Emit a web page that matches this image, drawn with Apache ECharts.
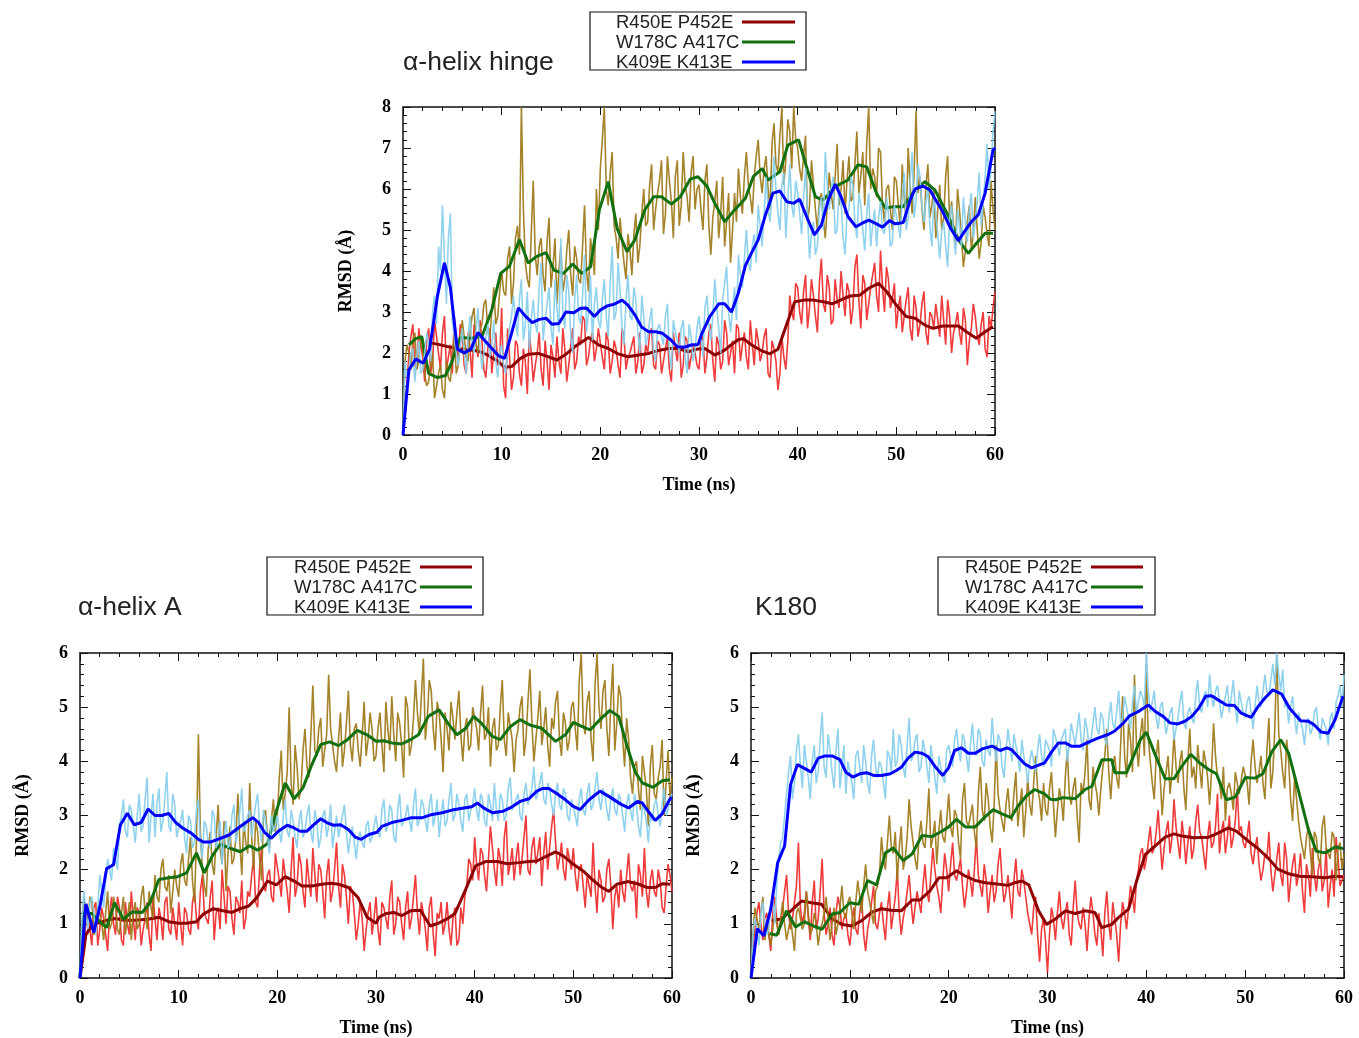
<!DOCTYPE html>
<html>
<head>
<meta charset="utf-8">
<script src="https://cdn.jsdelivr.net/npm/echarts@6/dist/echarts.min.js"></script>
<style>html,body{margin:0;padding:0;background:#fff}#c{width:1359px;height:1038px}</style>
</head>
<body>
<div id="c"></div>
<script>
// ---------------- DATA ----------------
const seriesNames = ['R450E P452E', 'W178C A417C', 'K409E K413E'];
const panelTitles = ['α-helix hinge', 'α-helix A', 'K180'];
const xTicks = { min: 0, max: 60, interval: 10 };
const yMaxHinge = 8, yMaxA = 6, yMaxK180 = 6;
const T_MAX = 60;

// raw traces: samples at t = 0, 0.4, 0.8 ... 60 ns
const hingeRawR = [
0,1.2,2.4,1.7,2.6,1.9,2.3,1.5,2.8,2.0,2.5,1.6,2.2,2.9,1.8,2.4,1.5,2.1,2.7,1.9,2.3,1.4,2.6,2.0,1.7,
3.1,0.9,1.9,1.4,2.2,1.2,1.8,2.5,1.3,2.0,1.6,2.3,1.1,1.9,2.4,1.5,2.1,1.7,2.6,1.8,2.2,2.8,1.9,2.5,2.1,
2.6,1.6,2.3,1.8,2.1,1.4,2.4,1.9,2.2,1.5,2.5,1.7,2.0,2.6,1.6,2.2,1.8,2.4,1.3,2.1,2.5,1.7,2.3,1.9,2.0,
1.6,2.4,1.9,2.7,1.3,2.2,1.8,2.5,2.0,1.5,2.6,2.2,1.9,2.8,1.7,2.3,2.0,2.6,1.4,2.1,1.1,2.4,1.6,3.4,2.8,
3.6,2.7,3.9,3.1,3.4,2.5,4.3,3.0,3.6,2.8,3.3,4.0,2.9,3.5,3.1,4.4,2.6,3.7,3.2,3.9,3.4,4.5,3.0,3.8,3.3,
2.6,3.4,2.9,3.6,2.3,3.1,2.7,3.5,2.2,2.9,3.2,2.4,2.8,3.3,2.0,2.7,2.5,3.1,1.7,2.6,2.9,2.2,3.0,1.9,2.6,3.5];
// in-between samples at t = 0.2, 0.6 ... 59.8 ns
const hingeRawR2 = [
0.8,2.0,2.7,1.6,2.2,1.3,2.6,1.8,2.4,1.6,2.9,1.9,1.5,2.3,2.7,1.7,2.5,1.4,2.2,2.8,1.6,2.1,1.5,2.5,1.8,
1.2,2.6,1.1,2.3,1.5,2.1,1.0,2.0,1.7,2.5,1.2,1.8,2.2,1.4,1.8,2.6,1.3,2.2,1.6,2.4,2.9,1.7,2.3,1.8,2.6,
1.9,2.5,1.5,2.3,1.7,2.6,1.6,2.0,2.4,1.8,1.5,2.2,2.5,1.7,2.3,1.5,2.1,1.6,2.5,1.8,1.4,2.4,1.6,2.2,1.7,
2.3,1.5,2.5,1.8,2.4,1.6,2.8,1.7,2.3,2.7,1.8,2.5,1.6,2.2,2.6,1.8,2.4,1.5,2.3,1.8,1.5,1.9,2.3,3.0,3.7,
3.0,3.5,2.6,3.8,2.9,3.7,3.2,3.9,2.7,3.8,3.1,3.4,3.7,2.7,4.1,3.3,3.9,2.8,3.6,4.2,3.0,3.6,4.1,3.1,3.7,
3.1,2.5,3.3,2.6,3.4,2.4,3.2,2.5,3.0,2.6,2.8,3.4,2.2,2.9,2.5,3.0,2.2,2.8,2.3,3.2,2.4,2.7,2.1,2.9,3.1];
const hingeRawW = [
0,2.2,1.6,2.5,1.8,2.1,1.2,1.7,0.9,1.5,1.1,1.8,1.3,2.4,1.7,2.8,1.9,2.5,3.1,2.0,2.7,3.3,2.4,3.6,2.9,
4.0,3.4,4.6,3.7,5.1,8.0,4.2,3.6,6.2,3.9,4.8,3.5,5.3,4.1,3.2,4.6,3.8,5.0,3.4,4.3,3.7,5.6,3.5,4.4,6.0,
6.5,8.0,5.6,6.9,4.8,5.3,4.2,4.9,3.9,5.4,4.6,6.0,5.2,6.6,5.5,6.2,4.9,6.8,5.7,6.3,5.1,6.9,5.8,6.4,5.5,
6.1,5.0,6.6,4.4,5.7,4.8,6.3,5.2,4.2,5.9,6.5,5.4,6.9,5.8,6.3,7.2,5.9,6.8,5.5,7.6,6.4,8.0,6.7,7.4,8.0,
7.0,6.2,7.3,5.6,6.1,5.0,5.9,4.8,6.4,5.5,7.1,6.0,5.4,6.8,5.8,7.4,6.3,5.6,8.0,6.5,5.8,6.9,5.2,6.1,5.0,
6.2,5.1,5.8,7.0,5.4,7.9,6.3,5.0,6.6,5.6,4.8,6.1,5.3,6.8,5.7,4.6,5.5,4.1,5.2,4.5,5.8,4.3,5.6,4.9,6.2,5.0];
const hingeRawW2 = [
1.8,2.0,2.3,1.6,2.4,1.5,1.3,2.0,1.2,1.7,0.9,1.4,2.0,1.5,2.2,2.4,1.8,2.9,2.2,2.6,3.2,2.5,3.0,2.7,3.5,
3.5,4.3,3.2,4.8,4.4,5.5,3.8,4.9,4.4,4.6,3.9,4.7,3.6,4.8,4.0,3.5,4.5,3.9,4.6,3.8,4.6,4.0,4.8,3.9,5.0,
7.2,6.0,6.4,5.1,4.3,4.7,3.8,4.5,4.9,4.2,5.4,5.1,6.1,5.0,5.9,6.7,5.4,6.2,4.8,6.7,5.6,6.1,5.2,6.8,6.0,
5.5,6.2,5.1,5.3,6.2,5.4,4.6,5.9,5.0,5.2,5.8,6.3,6.1,5.4,6.8,6.3,6.5,6.0,7.1,6.6,7.3,6.1,7.7,6.5,7.2,
6.5,6.8,5.2,6.7,5.5,5.7,5.3,5.6,5.9,6.3,5.6,6.7,6.2,5.7,6.6,5.9,6.9,7.1,6.0,6.3,7.0,5.6,6.0,5.5,6.3,
5.6,6.6,5.2,6.1,6.4,5.9,5.5,6.1,5.3,6.0,5.5,5.0,6.3,5.2,5.1,6.0,4.8,4.5,5.6,4.9,5.0,4.7,5.3,4.6,5.5];
const hingeRawK = [
0,1.4,2.0,1.3,2.3,1.6,2.5,1.8,3.4,4.6,5.6,3.2,5.4,2.4,1.7,2.6,1.5,2.9,2.0,3.1,1.6,2.4,1.9,2.8,1.4,
2.2,1.5,2.6,3.4,2.4,3.8,2.7,2.1,3.3,2.5,4.2,2.8,3.6,2.2,3.1,4.8,2.6,3.5,2.0,3.9,2.7,4.4,3.0,2.3,3.6,
2.6,3.8,2.4,4.6,3.0,3.5,2.2,3.9,2.8,3.3,2.0,2.9,2.4,3.1,1.8,2.7,2.2,3.2,1.6,2.5,2.0,2.8,1.5,2.4,2.1,
2.9,1.9,3.4,2.3,3.8,2.6,3.3,4.1,2.5,3.6,4.4,3.6,5.0,4.0,4.9,5.6,4.6,6.3,5.2,6.8,5.4,6.1,4.8,6.6,5.3,
5.9,4.9,6.5,4.3,5.2,4.6,5.8,6.9,5.5,6.3,5.0,5.7,4.4,5.5,6.1,4.8,5.6,4.5,5.9,5.1,4.6,5.7,4.9,5.4,4.7,
5.6,4.8,6.4,5.3,6.9,5.7,6.3,5.2,6.0,4.6,5.4,4.3,5.2,4.1,5.6,4.4,5.1,5.8,4.7,5.9,5.2,6.4,5.7,7.1,6.5,7.9];
const hingeRawK2 = [
1.8,1.6,2.1,1.9,1.5,2.0,2.2,3.0,2.7,4.0,4.3,4.8,2.8,2.0,2.2,2.0,2.4,2.2,2.5,2.2,2.0,2.7,2.2,1.8,2.0,
1.7,2.1,2.9,2.8,3.3,2.3,3.5,2.8,2.7,3.6,2.3,3.2,2.6,3.8,2.5,3.0,3.9,2.4,3.3,2.9,3.4,2.5,3.9,3.2,2.8,
3.3,2.9,3.7,2.8,4.2,2.6,3.3,2.9,3.6,2.5,3.4,2.2,2.8,2.0,2.6,2.4,2.9,2.0,2.8,2.3,2.6,1.9,2.7,1.8,2.6,
2.4,3.1,2.7,2.9,3.1,2.0,3.7,3.0,3.1,2.8,3.9,4.3,4.2,4.6,4.2,5.1,5.4,5.5,5.9,6.0,5.0,6.4,5.7,5.6,6.2,
5.4,5.8,5.4,4.9,4.4,5.5,5.0,6.1,6.0,4.9,6.0,4.8,5.4,6.3,5.2,5.9,5.0,5.4,4.6,5.5,5.3,5.0,5.8,4.6,5.6,
5.1,5.8,5.0,6.2,5.3,6.6,5.6,5.7,5.1,5.8,4.9,5.0,4.6,5.3,4.9,5.5,4.6,5.2,5.5,4.8,5.7,5.1,6.3,6.0,7.4];

const helixARawR = [
0,0.7,1.2,0.6,1.4,0.9,1.1,0.5,1.5,0.8,1.3,0.6,1.0,1.6,0.7,1.2,0.9,1.4,0.5,1.1,1.3,0.7,1.5,0.8,1.0,
1.4,0.6,1.2,0.8,1.6,0.9,1.9,1.1,1.5,0.7,1.3,2.0,1.0,1.6,0.8,1.4,1.8,1.1,1.5,2.2,1.3,2.4,1.6,2.0,1.4,
2.3,1.5,1.9,1.2,2.6,1.7,2.1,1.3,1.8,2.4,1.4,2.0,1.1,2.2,1.6,2.5,1.3,1.9,1.0,1.6,0.7,1.4,0.5,1.2,0.8,
1.5,0.6,1.3,0.9,1.8,1.0,1.4,0.7,1.6,1.1,1.9,0.8,1.2,0.5,1.5,0.4,1.1,0.8,1.4,0.6,1.3,0.7,1.0,1.7,2.1,
2.6,1.8,2.3,1.6,2.8,2.0,2.4,1.7,2.9,2.1,1.8,2.5,2.2,3.0,1.9,2.6,2.3,1.7,2.7,2.4,3.1,2.0,2.5,1.8,2.2,
2.4,1.6,2.1,1.3,1.9,2.5,1.2,1.8,1.5,2.2,0.9,1.7,2.0,1.4,2.3,1.6,1.1,1.9,2.4,1.3,2.0,1.5,1.8,1.2,2.1,1.6];
const helixARawR2 = [
0.4,1.0,0.9,1.3,0.6,1.3,0.8,1.2,1.0,1.5,0.7,1.4,0.8,1.1,1.3,0.6,1.1,0.8,1.5,0.7,1.1,1.4,0.9,1.3,0.7,
1.0,1.3,0.9,1.4,1.1,1.6,1.2,1.0,1.8,1.2,0.9,1.5,1.7,1.1,1.5,1.2,0.9,1.6,1.9,1.4,2.0,1.7,1.9,1.5,2.3,
1.8,2.2,1.6,2.0,1.5,2.3,1.6,2.2,1.5,1.9,2.1,1.6,1.9,1.4,2.0,1.7,2.1,1.5,1.7,1.2,1.0,1.1,0.9,1.4,1.1,
0.9,1.4,1.1,1.5,0.8,1.5,1.0,1.3,0.9,1.5,1.2,1.4,0.9,1.3,0.8,1.2,1.4,1.0,0.9,1.1,0.6,1.3,1.5,2.2,1.8,
2.1,2.4,1.9,2.2,2.4,1.7,2.2,2.6,1.9,2.4,2.2,1.9,2.6,2.0,2.4,2.1,2.6,2.3,2.0,2.8,2.5,2.2,2.0,2.4,2.0,
1.9,2.0,1.7,1.9,1.5,1.7,2.0,1.4,2.0,1.7,1.5,1.3,1.6,1.9,1.7,1.8,2.1,1.5,1.6,1.8,1.6,2.0,1.3,1.7,1.9];
const helixARawW = [
0,1.5,1.0,1.4,0.9,1.2,0.7,1.6,1.0,1.3,0.8,1.5,1.1,0.7,1.4,1.0,1.7,0.9,1.3,1.9,1.4,2.2,1.6,1.2,2.0,
1.5,2.3,1.7,2.6,1.4,4.5,2.0,1.5,2.7,1.9,3.2,2.1,1.6,2.8,2.2,3.4,1.9,2.5,3.6,2.0,2.7,1.8,3.1,2.4,3.3,
3.0,4.2,3.4,5.0,3.2,3.9,3.5,4.6,3.7,5.4,4.1,4.8,3.9,5.6,4.3,3.8,4.9,4.2,5.3,4.0,4.7,3.9,5.1,4.4,4.6,
4.1,4.9,3.8,4.6,5.2,4.0,4.7,3.7,5.0,4.3,5.5,4.5,5.9,4.8,5.3,4.2,4.9,3.8,4.6,5.1,4.4,5.3,4.0,4.8,4.3,
5.0,4.2,5.4,4.5,3.9,4.8,4.3,5.5,4.1,4.9,3.8,4.6,5.2,4.4,5.7,4.0,4.8,4.3,5.0,3.9,4.6,5.3,4.1,4.7,4.4,
5.1,4.2,6.0,4.5,5.3,4.0,6.0,4.6,5.5,4.1,5.8,4.7,5.2,3.9,4.4,3.4,4.0,3.1,3.8,2.8,4.3,3.3,3.9,3.0,4.2,3.7];
const helixARawW2 = [
0.9,1.2,1.5,0.8,1.3,1.0,1.2,0.9,1.5,0.9,1.2,0.8,1.4,1.2,0.9,1.5,1.2,1.6,1.1,1.5,2.0,1.7,1.9,1.6,1.7,
2.1,1.8,2.2,1.8,2.5,2.7,1.7,2.4,2.1,2.6,2.4,2.9,2.3,2.1,2.6,2.5,2.9,2.3,2.6,2.9,2.2,3.0,2.6,2.9,2.7,
3.7,3.1,3.8,3.6,4.3,3.3,4.2,3.9,4.5,4.2,4.6,3.9,4.5,4.6,4.0,4.4,3.9,4.7,4.3,4.6,4.2,4.5,4.1,4.9,4.0,
4.6,4.3,5.1,4.2,4.5,4.9,4.3,5.2,4.1,4.8,4.9,5.2,4.4,5.5,4.6,5.1,4.4,4.9,4.2,4.8,4.9,4.5,4.6,4.2,5.0,
4.6,4.9,4.4,5.0,4.6,4.2,5.0,4.4,4.9,4.4,4.4,5.0,4.1,5.1,4.7,4.4,5.3,4.6,4.3,4.8,5.1,4.4,4.9,4.2,5.0,
4.6,5.5,4.7,5.1,4.4,5.4,5.0,5.3,4.6,5.1,4.2,5.4,4.4,4.8,3.7,3.9,3.5,4.1,3.5,3.9,3.4,3.7,4.4,3.6,3.3];
const helixARawK = [
0,1.6,0.9,1.5,0.8,1.9,1.3,2.2,1.8,2.4,2.8,3.3,2.6,3.1,2.5,3.4,2.8,3.7,3.0,2.6,3.5,2.9,3.8,2.7,3.2,
2.6,3.1,2.3,2.9,2.5,3.3,2.2,2.8,2.4,3.0,2.6,2.1,2.9,2.5,3.2,2.7,3.5,2.8,3.1,2.6,3.4,2.5,2.9,2.3,2.7,
3.0,2.5,3.3,2.6,2.9,2.4,3.1,2.7,3.2,2.5,2.9,2.6,3.1,2.8,2.4,3.0,2.6,3.2,2.3,2.8,2.2,2.7,2.4,2.9,2.6,
3.0,2.6,3.3,2.8,3.1,2.5,3.4,2.9,3.2,2.7,3.5,2.9,3.2,2.7,3.4,3.0,2.6,3.3,2.9,3.6,3.0,3.2,2.7,3.4,3.1,
3.5,2.9,3.3,2.8,3.2,3.6,2.9,3.3,3.0,3.7,3.1,3.4,2.9,3.6,3.2,3.9,3.4,3.8,3.2,3.5,3.0,3.6,3.1,3.4,2.9,
3.3,2.8,3.5,3.0,3.6,3.2,3.8,3.1,3.4,2.9,3.5,3.0,3.3,2.7,3.4,2.9,3.2,2.6,3.1,2.5,2.9,3.3,2.8,3.5,3.1,3.4];
const helixARawK2 = [
1.1,1.2,1.4,1.2,1.3,1.6,1.8,2.0,2.4,2.0,3.0,2.7,3.2,2.8,3.0,2.7,3.3,2.5,3.4,3.2,2.7,3.3,2.8,3.4,2.6,
2.9,2.6,3.0,2.4,3.1,2.5,2.9,2.5,3.1,2.4,2.9,2.6,2.4,3.0,2.5,3.1,2.7,3.0,2.6,3.2,2.8,3.1,2.6,3.0,2.8,
2.7,3.0,2.7,3.1,2.6,2.9,2.6,3.0,2.7,3.1,2.4,3.0,2.6,3.2,2.7,2.6,3.0,2.7,2.6,2.5,2.6,2.5,2.8,2.5,2.8,
2.7,3.1,2.7,3.2,2.6,3.1,2.8,3.0,2.9,3.2,2.8,3.3,2.9,3.2,2.8,3.3,3.0,2.8,3.3,2.9,3.4,2.9,3.3,2.9,3.2,
3.1,3.4,2.9,3.4,2.9,3.1,3.4,2.9,3.5,3.1,3.3,3.0,3.4,3.2,3.5,3.3,3.6,3.3,3.6,3.2,3.4,3.2,3.5,3.0,3.3,
3.0,3.3,3.1,3.4,3.1,3.5,3.3,3.5,3.1,3.3,3.1,3.4,3.0,3.2,3.1,3.4,2.8,3.2,2.9,3.0,3.2,3.0,3.2,3.0,3.3];

const k180RawR = [
0,0.9,1.4,0.7,1.2,0.5,1.5,0.8,1.3,1.9,0.9,1.4,2.5,1.0,1.6,0.7,1.8,1.1,2.2,0.8,1.3,0.6,1.5,0.9,1.2,
0.6,1.3,0.8,1.5,0.5,1.1,1.7,0.9,1.4,0.7,1.6,1.2,2.0,0.8,1.3,1.9,1.0,1.6,1.2,2.1,1.4,2.4,1.7,1.2,2.3,
1.6,2.5,1.8,2.2,1.3,2.0,1.5,2.6,1.7,2.1,1.2,1.9,1.6,2.4,1.4,1.9,1.1,2.2,1.5,1.8,1.2,0.8,1.5,0.3,1.1,
0.1,1.3,0.7,1.6,0.9,1.4,0.6,1.8,1.0,1.3,0.5,1.5,0.8,1.2,0.4,1.6,0.7,1.1,0.3,1.4,0.9,1.7,1.2,2.0,2.4,
2.2,2.8,2.4,3.1,2.0,2.7,2.3,3.3,2.5,2.9,2.1,2.8,2.4,3.2,2.6,2.0,2.9,2.5,3.4,2.7,2.3,3.0,2.6,3.5,2.8,
2.4,2.9,2.1,2.6,1.8,2.3,2.7,1.6,2.2,1.9,2.5,1.4,2.1,1.7,2.3,1.2,1.9,2.4,1.6,2.2,1.8,1.3,2.0,2.6,1.7,1.9];
const k180RawR2 = [
0.6,1.2,1.0,1.1,0.8,1.2,1.1,1.0,1.6,1.2,1.1,1.7,1.3,1.2,1.1,1.4,0.9,1.6,1.2,1.0,0.8,1.2,1.3,1.1,0.8,
1.0,0.9,1.2,0.8,0.9,1.4,1.0,1.2,1.0,1.3,0.9,1.5,1.2,1.1,1.6,1.4,1.3,1.4,1.7,1.6,1.9,2.0,1.5,1.8,2.0,
2.1,1.9,2.0,1.7,1.6,1.8,2.0,1.9,1.5,1.8,1.6,1.4,2.1,1.8,1.6,1.5,1.8,1.6,2.0,1.5,1.0,1.3,0.8,0.9,0.7,
0.8,1.1,1.2,1.1,1.2,0.8,1.3,1.2,0.9,1.0,1.1,1.2,0.6,0.9,1.2,1.0,1.4,0.8,1.0,1.2,1.3,1.5,1.8,2.3,2.0,
2.5,2.3,2.7,2.5,2.4,2.9,2.6,2.8,2.2,2.6,2.5,2.2,2.9,2.7,2.3,2.6,2.4,2.8,2.3,2.9,2.6,2.4,2.9,2.7,2.5,
2.6,2.3,2.4,2.1,2.0,2.2,2.0,1.9,2.5,1.7,2.2,1.8,2.3,1.9,1.6,2.1,1.5,1.9,2.0,1.6,2.4,1.7,1.5,2.2,1.8];
const k180RawW = [
0,1.3,0.9,1.5,1.0,0.6,1.2,0.8,1.4,0.7,1.1,0.5,1.3,0.9,1.6,0.8,1.2,0.6,1.0,1.5,0.7,1.3,1.0,1.7,1.1,
1.5,0.9,1.8,1.2,2.1,1.4,1.0,1.7,2.6,2.0,3.0,2.3,1.8,2.8,2.2,3.3,2.5,2.0,2.9,2.4,3.5,2.6,2.1,3.1,2.5,
3.4,2.6,3.0,2.2,3.6,2.8,3.2,2.4,3.9,2.9,3.3,2.5,4.3,3.1,2.7,3.5,2.9,3.8,3.2,2.6,3.7,3.0,4.1,3.3,3.6,
3.0,3.8,2.6,3.5,2.9,4.2,3.2,3.7,2.5,3.4,4.4,3.1,3.6,3.0,3.9,4.6,3.3,4.1,3.5,5.2,3.7,4.4,5.6,3.9,4.8,
5.8,4.0,3.3,4.4,3.0,3.8,3.4,4.5,3.6,4.2,3.1,4.6,3.9,4.3,3.5,4.0,3.2,4.7,3.7,3.3,2.9,3.6,3.1,3.8,3.4,
3.9,3.2,4.4,3.6,4.1,3.3,4.8,3.8,6.0,4.2,3.5,4.0,2.9,3.3,2.6,2.2,2.8,1.9,2.6,2.1,3.0,2.3,2.7,1.8,2.5,2.3];
const k180RawW2 = [
0.8,1.1,1.2,0.7,1.0,0.9,1.0,1.1,1.0,0.9,0.8,1.2,1.1,1.0,1.2,0.9,1.0,0.9,1.2,1.1,1.0,0.8,1.3,1.2,1.4,
1.2,1.4,1.5,1.7,1.6,1.2,1.6,1.9,2.2,2.5,2.4,2.7,2.4,2.0,2.6,2.8,2.2,2.6,2.5,2.9,2.4,2.9,2.7,2.6,2.9,
2.8,3.1,2.5,3.3,2.9,3.0,2.7,3.4,3.1,3.6,2.8,3.2,3.4,2.9,3.2,3.0,3.4,2.8,3.5,3.1,3.2,3.6,3.5,2.9,3.1,
3.5,3.2,3.1,3.3,3.7,3.4,3.5,3.0,3.6,3.8,3.3,3.9,3.4,3.5,4.1,3.8,3.9,3.7,4.3,4.1,4.7,3.8,4.3,4.5,4.1,
4.4,3.6,4.1,3.7,3.5,4.1,3.8,3.9,4.0,3.5,4.0,3.7,3.5,3.9,4.2,3.7,3.8,4.1,3.6,3.9,3.5,3.4,3.8,3.4,3.9,
3.6,4.0,3.9,3.8,3.6,4.2,3.5,4.6,4.5,3.8,4.4,3.3,3.7,2.9,2.4,2.6,2.3,2.7,2.2,2.8,2.4,2.2,2.6,2.4,2.0];
const k180RawK = [
0,1.1,0.6,1.4,0.8,1.3,1.0,2.2,2.6,3.4,4.1,3.6,4.5,3.5,4.0,3.3,4.3,3.8,4.9,3.7,4.2,3.5,4.6,3.9,3.4,
3.8,3.3,4.2,3.6,4.0,3.4,4.4,3.7,3.9,3.3,4.1,4.6,4.0,4.3,3.7,4.8,4.1,4.5,3.9,4.2,3.6,4.0,3.4,3.9,3.6,
4.3,3.9,4.6,4.0,4.4,3.8,4.7,4.1,4.5,3.9,4.2,4.8,4.0,4.4,3.7,4.6,4.0,4.3,3.8,4.1,3.6,4.2,3.8,4.5,3.9,
4.3,3.9,4.6,4.1,4.5,4.0,4.7,4.3,4.9,4.2,4.6,4.4,5.0,4.5,4.8,4.3,5.1,4.6,5.3,4.8,5.0,4.6,5.4,4.9,5.2,
6.0,4.9,5.3,4.6,5.1,4.5,4.9,4.4,4.8,5.3,4.6,5.0,4.7,5.5,4.9,5.3,5.6,5.0,5.4,4.8,5.2,4.9,5.5,4.7,5.1,
4.8,5.2,4.6,5.4,5.0,5.6,5.2,5.8,6.0,5.3,5.0,4.7,5.2,4.5,4.9,4.3,4.8,4.6,5.0,4.4,4.7,4.3,4.9,5.1,5.4,5.6];
const k180RawK2 = [
0.8,0.9,1.2,1.0,0.9,1.5,1.7,2.5,3.0,3.8,3.3,4.2,3.9,4.3,3.7,4.0,3.6,4.4,3.9,4.5,3.8,4.2,3.5,4.3,4.0,
3.6,4.1,3.9,4.3,3.6,4.1,3.9,4.0,3.6,4.2,3.8,3.9,4.5,3.9,4.3,4.0,4.4,3.8,4.4,3.9,4.3,3.7,4.1,3.7,4.2,
4.1,4.4,4.2,4.5,4.1,4.3,4.2,4.6,4.0,4.4,4.1,4.3,4.5,3.9,4.2,4.3,4.5,4.1,4.4,3.9,4.0,4.0,4.2,4.1,4.4,
4.2,4.6,4.3,4.4,4.6,4.3,4.5,4.6,4.4,4.8,4.3,4.7,4.6,4.9,4.4,4.8,4.7,4.9,4.7,5.2,4.8,5.1,4.9,5.3,5.0,
5.3,5.1,4.8,5.0,4.8,4.7,5.0,4.6,5.1,4.7,4.9,4.8,5.2,5.0,5.2,5.0,5.2,5.3,5.1,5.0,5.4,5.2,5.0,5.3,4.9,
5.1,4.9,5.0,5.1,5.3,5.3,5.5,5.4,5.6,5.7,5.1,5.0,4.8,4.9,4.6,4.7,4.5,4.9,4.6,4.8,4.6,4.8,4.6,5.2,5.0];

// running-average curves as [time (ns), RMSD] pairs
const hingeAvgR = [[2.7,2.25],[3.6,2.21],[4.6,2.15],[5.6,2.11],[6.6,2.08],[7.6,2.05],[8.6,1.95],[9.6,1.8],[10.3,1.65],[11.0,1.67],[11.9,1.87],[12.7,1.97],[13.7,1.99],[14.7,1.91],[15.6,1.83],[16.4,1.95],[17.4,2.15],[18.8,2.38],[19.8,2.2],[20.8,2.11],[21.8,1.98],[22.8,1.91],[23.9,1.95],[24.9,1.99],[25.9,2.06],[26.9,2.11],[27.9,2.11],[28.9,2.03],[29.9,2.1],[30.6,2.11],[31.6,1.95],[32.6,2.07],[33.1,2.17],[34.0,2.33],[34.5,2.35],[35.3,2.2],[36.3,2.06],[37.2,1.98],[38.0,2.09],[38.8,2.64],[39.7,3.25],[40.7,3.29],[41.6,3.29],[42.6,3.25],[43.5,3.2],[44.5,3.31],[45.3,3.39],[46.3,3.41],[47.2,3.58],[48.2,3.7],[49.0,3.5],[50.0,3.17],[51.0,2.89],[51.9,2.85],[52.9,2.68],[53.7,2.6],[54.7,2.66],[56.3,2.66],[57.1,2.52],[58.1,2.36],[59.0,2.52],[59.8,2.64]];
const hingeAvgW = [[0.6,2.2],[1.3,2.35],[1.9,2.4],[2.6,1.5],[3.5,1.4],[4.3,1.45],[4.9,1.75],[5.8,2.38],[6.96,2.36],[8.0,2.4],[9.0,3.05],[9.9,3.94],[10.8,4.12],[11.8,4.77],[12.7,4.19],[13.5,4.35],[14.5,4.45],[15.3,4.02],[16.25,3.94],[17.2,4.17],[18.1,3.94],[19.0,4.1],[19.9,5.49],[20.8,6.18],[21.7,5.04],[22.7,4.47],[23.5,4.76],[24.5,5.49],[25.4,5.81],[26.2,5.81],[27.2,5.63],[28.1,5.81],[29.1,6.24],[29.9,6.3],[30.8,6.07],[31.6,5.65],[32.6,5.2],[33.6,5.49],[34.7,5.77],[35.5,6.3],[36.4,6.5],[37.0,6.22],[38.2,6.42],[39.0,7.07],[40.1,7.2],[40.9,6.54],[41.8,5.81],[42.6,5.73],[43.8,6.06],[45.1,6.22],[46.1,6.59],[47.0,6.54],[48.0,5.89],[48.9,5.53],[49.7,5.57],[50.7,5.57],[51.9,5.98],[52.9,6.18],[53.9,5.98],[55.3,5.33],[56.3,4.76],[57.3,4.43],[58.1,4.67],[59.0,4.92],[59.8,4.92]];
const hingeAvgK = [[0,0],[0.6,1.59],[1.3,1.85],[2.06,1.75],[2.7,2.1],[3.5,3.4],[4.2,4.2],[4.8,3.6],[5.5,2.1],[6.2,2.0],[6.9,2.1],[7.6,2.5],[8.3,2.3],[9.05,2.1],[9.7,1.93],[10.3,1.87],[11.0,2.48],[11.7,3.1],[12.4,2.9],[13.1,2.74],[13.8,2.82],[14.5,2.85],[15.1,2.7],[15.8,2.72],[16.5,3.0],[17.3,2.98],[18.0,3.09],[18.6,3.1],[19.4,2.89],[20.0,3.05],[20.7,3.15],[21.4,3.19],[22.2,3.29],[22.8,3.17],[23.5,2.93],[24.2,2.63],[24.9,2.52],[25.6,2.52],[26.3,2.48],[27.1,2.33],[27.8,2.15],[28.5,2.14],[29.3,2.2],[29.9,2.2],[30.3,2.48],[31.1,2.89],[32.0,3.2],[32.6,3.2],[33.3,3.0],[34.0,3.47],[34.7,4.13],[35.3,4.43],[36.0,4.76],[36.7,5.34],[37.5,5.9],[38.2,5.95],[38.9,5.69],[39.6,5.65],[40.2,5.75],[40.9,5.33],[41.7,4.88],[42.4,5.12],[43.1,5.73],[43.8,6.12],[44.4,5.81],[45.1,5.33],[45.9,5.08],[46.5,5.16],[47.2,5.24],[47.9,5.16],[48.6,5.07],[49.3,5.23],[49.9,5.15],[50.7,5.18],[51.4,5.73],[51.9,6.0],[52.7,6.07],[53.4,5.98],[53.9,5.77],[54.7,5.45],[55.5,5.04],[56.3,4.74],[56.9,4.96],[57.6,5.2],[58.3,5.37],[59.0,5.9],[59.8,6.95],[60,7.0]];

const helixAAvgR = [[0,0],[0.6,0.8],[1.3,1.0],[2.0,1.02],[2.6,1.06],[3.6,1.1],[4.6,1.06],[5.9,1.07],[7.0,1.09],[8.0,1.12],[9.0,1.04],[10.0,1.01],[10.8,1.01],[11.8,1.04],[12.5,1.18],[13.5,1.28],[14.5,1.24],[15.4,1.21],[16.25,1.28],[17.1,1.33],[17.9,1.48],[19.0,1.79],[19.9,1.72],[20.8,1.87],[21.7,1.79],[22.5,1.7],[23.5,1.7],[24.5,1.73],[25.4,1.75],[26.2,1.73],[27.2,1.67],[28.2,1.48],[29.1,1.12],[30.0,1.01],[30.3,1.12],[31.0,1.19],[31.8,1.21],[32.6,1.15],[33.5,1.24],[34.5,1.25],[35.5,0.96],[36.3,1.01],[37.2,1.09],[38.0,1.19],[39.1,1.64],[40.1,2.07],[41.1,2.15],[42.3,2.15],[43.3,2.11],[44.5,2.13],[45.5,2.15],[46.3,2.16],[47.3,2.25],[48.2,2.33],[49.0,2.25],[50.0,2.1],[51.1,1.96],[51.9,1.82],[52.9,1.67],[53.6,1.6],[54.4,1.73],[55.5,1.78],[56.5,1.74],[57.5,1.67],[58.3,1.67],[59.0,1.74],[59.8,1.73]];
const helixAAvgW = [[0,0],[0.37,1.2],[1.2,1.19],[1.9,1.06],[2.7,0.93],[3.5,1.39],[4.4,1.09],[5.3,1.22],[6.3,1.21],[7.1,1.39],[8.0,1.82],[9.0,1.85],[9.9,1.87],[10.8,1.94],[11.8,2.31],[12.6,1.94],[13.4,2.25],[14.2,2.47],[15.3,2.39],[16.25,2.33],[17.2,2.44],[18.0,2.36],[19.0,2.48],[19.9,3.08],[20.8,3.6],[21.7,3.31],[22.6,3.51],[23.5,3.94],[24.4,4.31],[25.3,4.36],[26.2,4.29],[27.1,4.4],[28.1,4.57],[29.1,4.49],[30.0,4.37],[30.8,4.38],[31.6,4.34],[32.6,4.32],[33.5,4.4],[34.3,4.49],[35.3,4.83],[36.4,4.95],[37.3,4.7],[38.2,4.49],[39.1,4.61],[39.9,4.83],[40.7,4.7],[41.8,4.46],[42.6,4.4],[43.6,4.64],[44.6,4.77],[45.6,4.67],[46.8,4.61],[48.2,4.37],[49.2,4.49],[50.0,4.72],[50.9,4.64],[51.7,4.58],[52.7,4.77],[53.7,4.94],[54.6,4.83],[55.4,4.31],[56.3,3.79],[57.0,3.6],[58.1,3.52],[59.0,3.64],[59.8,3.66]];
const helixAAvgK = [[0,0],[0.6,1.37],[1.4,0.84],[2.06,1.36],[2.7,2.02],[3.4,2.09],[4.1,2.83],[4.8,3.04],[5.5,2.83],[6.2,2.87],[6.9,3.12],[7.6,3.0],[8.3,3.0],[9.0,3.04],[9.7,2.87],[10.4,2.77],[11.3,2.67],[12.0,2.56],[12.5,2.51],[13.2,2.51],[14.1,2.57],[15.1,2.64],[15.9,2.75],[16.8,2.87],[17.5,2.96],[18.1,2.87],[18.7,2.69],[19.4,2.58],[20.1,2.71],[21.0,2.82],[21.7,2.77],[22.3,2.71],[23.0,2.71],[23.7,2.83],[24.4,2.94],[25.0,2.87],[25.7,2.82],[26.4,2.83],[27.2,2.74],[27.9,2.6],[28.5,2.56],[29.3,2.65],[30.1,2.69],[30.6,2.8],[31.6,2.87],[32.6,2.91],[33.6,2.96],[34.7,2.96],[35.7,3.02],[36.7,3.05],[37.7,3.1],[38.6,3.13],[39.7,3.16],[40.3,3.23],[40.9,3.14],[41.8,3.05],[42.9,3.08],[43.8,3.16],[44.6,3.26],[45.5,3.31],[46.3,3.45],[46.9,3.5],[47.5,3.5],[48.2,3.42],[49.2,3.29],[50.0,3.17],[50.7,3.11],[51.6,3.29],[52.7,3.45],[53.8,3.33],[54.8,3.21],[55.6,3.14],[56.5,3.26],[57.0,3.23],[57.7,3.05],[58.3,2.91],[59.0,3.03],[59.8,3.31],[60,3.33]];

const k180AvgR = [[2.1,1.06],[3.1,1.09],[4.1,1.25],[5.1,1.42],[6.1,1.39],[7.15,1.36],[8.2,1.09],[9.2,0.99],[10.2,0.96],[11.2,1.06],[12.2,1.21],[13.2,1.28],[14.2,1.25],[15.2,1.24],[16.3,1.44],[17.1,1.44],[18.1,1.61],[19.0,1.85],[19.8,1.85],[20.8,1.98],[21.7,1.88],[22.7,1.8],[23.7,1.76],[24.7,1.74],[26.0,1.71],[26.7,1.76],[27.4,1.79],[28.1,1.72],[29.1,1.24],[29.9,0.99],[30.8,1.09],[31.8,1.24],[32.8,1.19],[33.8,1.24],[34.8,1.21],[35.5,0.93],[36.5,0.99],[37.2,1.12],[38.2,1.27],[39.0,1.78],[39.9,2.28],[40.9,2.44],[41.9,2.6],[42.8,2.66],[43.6,2.62],[44.8,2.59],[46.3,2.6],[47.3,2.68],[48.3,2.77],[49.1,2.71],[50.3,2.53],[51.3,2.39],[52.3,2.22],[53.3,2.01],[54.3,1.93],[55.5,1.88],[56.7,1.87],[58.1,1.85],[59.1,1.88],[59.9,1.87]];
const k180AvgW = [[1.9,0.82],[2.6,0.79],[3.6,1.24],[4.5,0.94],[5.4,1.04],[6.3,0.96],[7.2,0.9],[8.2,1.18],[9.0,1.21],[10.0,1.39],[10.9,1.36],[11.8,1.8],[12.7,1.72],[13.6,2.31],[14.4,2.4],[15.4,2.17],[16.3,2.29],[17.3,2.63],[18.3,2.61],[19.3,2.71],[20.0,2.79],[20.8,2.93],[21.7,2.79],[22.7,2.79],[23.6,2.96],[24.5,3.11],[25.4,3.03],[26.3,2.96],[27.0,3.17],[27.9,3.37],[28.7,3.48],[29.7,3.4],[30.3,3.3],[30.8,3.29],[31.6,3.33],[32.8,3.31],[33.8,3.48],[34.5,3.54],[35.5,4.03],[36.5,4.03],[36.8,3.79],[38.0,3.79],[38.9,4.18],[39.4,4.4],[40.0,4.54],[40.9,4.12],[41.9,3.68],[42.8,3.68],[43.6,3.91],[44.5,4.13],[45.4,3.97],[46.3,3.85],[47.1,3.77],[48.1,3.29],[49.0,3.34],[50.0,3.7],[51.0,3.69],[51.8,3.77],[52.7,4.18],[53.6,4.4],[54.4,4.15],[55.4,3.45],[56.4,2.74],[57.2,2.34],[58.1,2.31],[59.1,2.42],[59.9,2.39]];
const k180AvgK = [[0,0],[0.64,0.91],[1.3,0.78],[2.0,1.27],[2.7,2.13],[3.4,2.44],[4.0,3.57],[4.7,3.94],[5.5,3.86],[6.1,3.8],[6.8,4.06],[7.5,4.1],[8.2,4.1],[9.0,4.03],[9.6,3.8],[10.3,3.71],[11.0,3.77],[11.7,3.79],[12.4,3.74],[13.2,3.74],[14.1,3.77],[14.7,3.83],[15.2,3.89],[15.9,4.06],[16.6,4.17],[17.3,4.15],[17.9,4.09],[18.6,3.91],[19.4,3.74],[20.0,3.88],[20.6,4.2],[21.3,4.25],[22.0,4.15],[22.7,4.15],[23.4,4.23],[24.4,4.28],[25.2,4.2],[25.9,4.25],[26.4,4.21],[27.0,4.09],[27.7,3.95],[28.4,3.88],[29.1,3.93],[29.7,3.97],[30.4,4.17],[31.1,4.34],[31.8,4.34],[32.4,4.28],[33.3,4.28],[34.1,4.35],[35.1,4.43],[36.2,4.5],[36.8,4.56],[37.7,4.71],[38.3,4.84],[39.2,4.92],[40.2,5.04],[40.9,4.92],[41.7,4.83],[42.4,4.71],[43.2,4.69],[43.9,4.74],[44.6,4.83],[45.3,4.98],[46.0,5.2],[46.6,5.21],[47.3,5.13],[48.1,5.04],[48.9,5.03],[49.6,4.89],[50.6,4.81],[51.3,5.01],[52.0,5.17],[52.8,5.32],[53.7,5.24],[54.5,4.98],[55.6,4.75],[56.4,4.74],[57.0,4.67],[57.7,4.54],[58.4,4.52],[59.1,4.77],[59.9,5.2]];

// ---------------- STYLE / LAYOUT ----------------
const rawColors = ['#ee2a2a', '#9c7818', '#87ceeb'];
const avgColors = ['#8e0000', '#12700f', '#0000ff'];
const grids = [
  { left: 403, top: 107, width: 592, height: 328, ymax: yMaxHinge,
    raw: [[hingeRawR, hingeRawR2], [hingeRawW, hingeRawW2], [hingeRawK, hingeRawK2]],
    avg: [hingeAvgR, hingeAvgW, hingeAvgK],
    title: panelTitles[0], titleX: 403, titleY: 60,
    legend: { x: 590, y: 12, w: 216, h: 58, textX: 616, lineX1: 742, lineX2: 795 } },
  { left: 80, top: 653, width: 592, height: 326, ymax: yMaxA,
    raw: [[helixARawR, helixARawR2], [helixARawW, helixARawW2], [helixARawK, helixARawK2]],
    avg: [helixAAvgR, helixAAvgW, helixAAvgK],
    title: panelTitles[1], titleX: 78, titleY: 605,
    legend: { x: 267, y: 557, w: 216, h: 58, textX: 294, lineX1: 420, lineX2: 472 } },
  { left: 751, top: 653, width: 593, height: 326, ymax: yMaxK180,
    raw: [[k180RawR, k180RawR2], [k180RawW, k180RawW2], [k180RawK, k180RawK2]],
    avg: [k180AvgR, k180AvgW, k180AvgK],
    title: panelTitles[2], titleX: 755, titleY: 605,
    legend: { x: 938, y: 557, w: 217, h: 58, textX: 965, lineX1: 1091, lineX2: 1143 } }
];

// interleave the main samples with the in-between samples
function rawPairs(main, mid) {
  const n = main.length, step = T_MAX / (n - 1), out = [];
  for (let i = 0; i < n; i++) {
    out.push([i * step, main[i]]);
    if (i < mid.length && i < n - 1) out.push([(i + 0.5) * step, mid[i]]);
  }
  return out;
}

const serif = 'Liberation Serif, Times New Roman, serif';
const sans = 'Liberation Sans, Arial, sans-serif';

const option = { animation: false, backgroundColor: '#fff', grid: [], xAxis: [], yAxis: [], series: [], graphic: [] };

grids.forEach((g, gi) => {
  option.grid.push({ left: g.left, top: g.top, width: g.width, height: g.height, containLabel: false });
  const common = {
    axisLine: { show: true, onZero: false, lineStyle: { color: '#111', width: 1.5 } },
    axisTick: { show: true, inside: true, length: 8, lineStyle: { color: '#111', width: 1 } },
    minorTick: { show: true, splitNumber: 5, length: 4, lineStyle: { color: '#111', width: 1 } },
    splitLine: { show: false }
  };
  const xBase = Object.assign({ type: 'value', gridIndex: gi, min: xTicks.min, max: xTicks.max, interval: xTicks.interval }, common);
  const yBase = Object.assign({ type: 'value', gridIndex: gi, min: 0, max: g.ymax, interval: 1 }, common);
  option.xAxis.push(Object.assign({}, xBase, {
    position: 'bottom', name: 'Time (ns)', nameLocation: 'middle', nameGap: 41,
    nameTextStyle: { fontFamily: serif, fontWeight: 'bold', fontSize: 18, color: '#000' },
    axisLabel: { margin: 11, fontFamily: serif, fontWeight: 'bold', fontSize: 18, color: '#000' }
  }));
  option.xAxis.push(Object.assign({}, xBase, { position: 'top', axisLabel: { show: false } }));
  option.yAxis.push(Object.assign({}, yBase, {
    position: 'left', name: 'RMSD (Å)', nameLocation: 'middle', nameGap: 48, nameRotate: 90,
    nameTextStyle: { fontFamily: serif, fontWeight: 'bold', fontSize: 18, color: '#000' },
    axisLabel: { margin: 12, fontFamily: serif, fontWeight: 'bold', fontSize: 18, color: '#000' }
  }));
  option.yAxis.push(Object.assign({}, yBase, { position: 'right', axisLabel: { show: false } }));

  for (let s = 0; s < 3; s++) {
    option.series.push({
      type: 'line', name: seriesNames[s] + ' raw', xAxisIndex: gi * 2, yAxisIndex: gi * 2,
      data: rawPairs(g.raw[s][0], g.raw[s][1]), showSymbol: false, symbol: 'none', clip: true,
      lineStyle: { color: rawColors[s], width: 1.6, opacity: 0.92 }, silent: true
    });
    option.series.push({
      type: 'line', name: seriesNames[s], xAxisIndex: gi * 2, yAxisIndex: gi * 2,
      data: g.avg[s], showSymbol: false, symbol: 'none', clip: true,
      lineStyle: { color: avgColors[s], width: 3 }, silent: true
    });
  }

  // title
  option.graphic.push({ type: 'text', left: g.titleX, top: g.titleY - 11,
    style: { text: g.title, font: '26.5px ' + sans, fill: '#222' } });
  // legend box
  const L = g.legend;
  option.graphic.push({ type: 'rect', shape: { x: L.x, y: L.y, width: L.w, height: L.h },
    style: { fill: '#fff', stroke: '#111', lineWidth: 1.2 } });
  for (let s = 0; s < 3; s++) {
    const cy = L.y + 11 + s * 20;
    option.graphic.push({ type: 'text', x: L.textX, y: cy,
      style: { text: seriesNames[s], font: '18.5px ' + sans, fill: '#222', textVerticalAlign: 'middle', verticalAlign: 'middle' } });
    option.graphic.push({ type: 'line', shape: { x1: L.lineX1, y1: cy - 1, x2: L.lineX2, y2: cy - 1 },
      style: { stroke: avgColors[s], lineWidth: 3 } });
  }
});

const chart = echarts.init(document.getElementById('c'), null, { renderer: 'canvas' });
chart.setOption(option);
</script>
</body>
</html>
